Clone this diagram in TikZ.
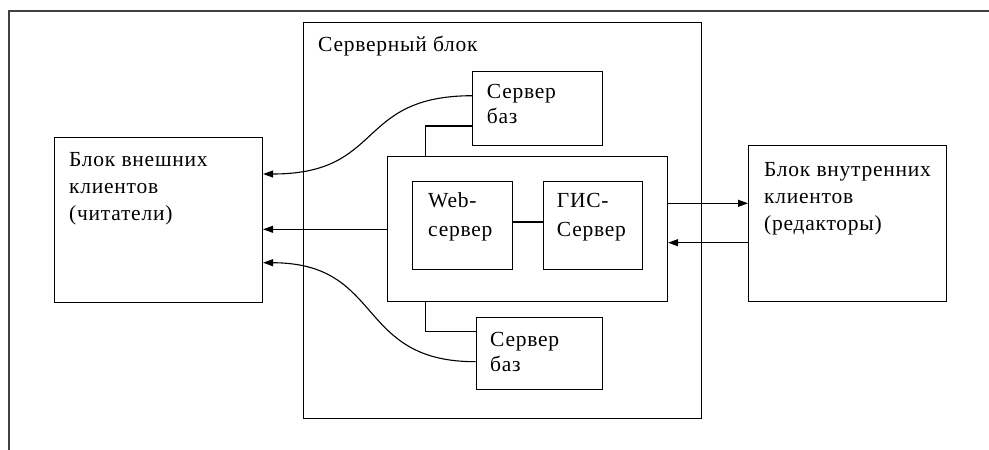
\documentclass[tikz,border=0pt]{standalone}
\usepackage{fontspec}
\setmainfont{Liberation Serif}[LetterSpace=3.5]
\usetikzlibrary{arrows.meta}
\begin{document}
\begin{tikzpicture}[x=1pt,y=-1pt,
  box/.style={draw, line width=1.1pt, inner sep=0pt, anchor=north west},
  lbl/.style={anchor=base west, inner sep=0pt, font=\fontsize{21.5}{26}\selectfont},
  conn/.style={line width=1.1pt},
  arr/.style={line width=1.1pt, -{Triangle[length=10pt,width=7pt]}}]
\useasboundingbox (0,0) rectangle (989,450);
% outer frame
\coordinate (ftr) at (989,11);
\coordinate (ftl) at (9,11);
\coordinate (fbl) at (9,450);
\draw[line width=1.4pt, black!75] (ftr) -- (ftl) -- (fbl);
% boxes
\node[box, minimum width=398pt, minimum height=395.7pt] (srv) at (303,22) {};
\node[box, minimum width=208pt, minimum height=164.7pt] (ext) at (54,137) {};
\node[box, minimum width=198pt, minimum height=156pt] (int) at (748,145) {};
\node[box, minimum width=129.7pt, minimum height=74.3pt] (db1) at (472,70.7) {};
\node[box, minimum width=280pt, minimum height=145pt] (mid) at (387,155.7) {};
\node[box, minimum width=100pt, minimum height=88.6pt] (web) at (412.3,180.7) {};
\node[box, minimum width=98.4pt, minimum height=88.6pt] (gis) at (543.3,180.7) {};
\node[box, minimum width=126.3pt, minimum height=72pt] (db2) at (475.7,317.3) {};
% labels
\node[lbl] (tsrv) at (318,51) {Серверный блок};
\node[lbl] (text1) at (69,166.7) {Блок внешних};
\node[lbl] (text2) at (69,193.3) {клиентов};
\node[lbl] (text3) at (69,220) {(читатели)};
\node[lbl] (tint1) at (764,176.7) {Блок внутренних};
\node[lbl] (tint2) at (764,203.3) {клиентов};
\node[lbl] (tint3) at (764,230) {(редакторы)};
\node[lbl] (tdb1a) at (486.7,98.3) {Сервер};
\node[lbl] (tdb1b) at (486.7,123.3) {баз};
\node[lbl] (tweb1) at (428,207.3) {Web-};
\node[lbl] (tweb2) at (428,236.5) {сервер};
\node[lbl] (tgis1) at (556.7,207.3) {ГИС-};
\node[lbl] (tgis2) at (556.7,236.5) {Сервер};
\node[lbl] (tdb2a) at (490,346.7) {Сервер};
\node[lbl] (tdb2b) at (490,371.7) {баз};
% connectors
\draw[conn] (web.east |- 0,222) -- (gis.west |- 0,222);
\draw[conn] (db1.west |- 0,126) -| (425.7,0 |- mid.north);
\draw[conn] (425.7,0 |- mid.south) |- (db2.west |- 0,331.7);
\draw[arr] (db1.west |- 0,95.7) .. controls (355,96) and (385,174) .. (ext.east |- 0,174);
\draw[arr] (mid.west |- 0,229.3) -- (ext.east |- 0,229.3);
\draw[arr] (db2.west |- 0,361.7) .. controls (355,362) and (385,263) .. (ext.east |- 0,262.7);
\draw[arr] (mid.east |- 0,203.3) -- (int.west |- 0,203.3);
\draw[arr] (int.west |- 0,242.7) -- (mid.east |- 0,242.7);
\end{tikzpicture}
\end{document}
